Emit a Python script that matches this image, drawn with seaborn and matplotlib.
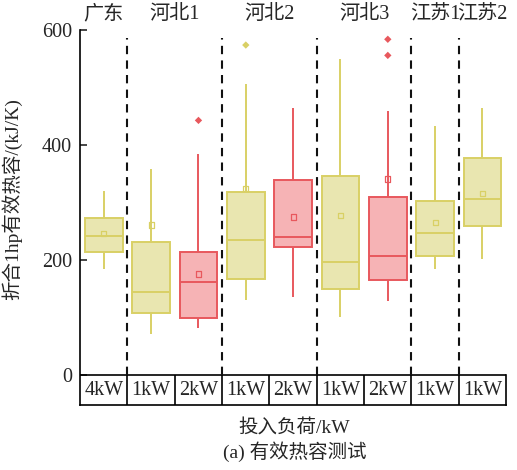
import numpy as np
import pandas as pd
import matplotlib
matplotlib.use('Agg')
import matplotlib.pyplot as plt
import seaborn as sns

# boxes, left to right
loads = ['4kW', '1kW', '2kW', '1kW', '2kW', '1kW', '2kW', '1kW', '1kW']
groups = ['广东', '河北1', '河北2', '河北3', '江苏1', '江苏2']
group_sizes = [1, 2, 2, 2, 1, 1]

whis_lo = [184, 71, 82, 130, 136, 101, 129, 184, 202]
q1 = [214, 108, 99, 168, 223, 150, 165, 207, 259]
median = [242, 144, 162, 235, 240, 197, 207, 247, 306]
q3 = [273, 231, 214, 318, 339, 346, 309, 303, 377]
whis_hi = [320, 358, 384, 506, 464, 549, 459, 434, 465]
means = [247, 261, 176, 325, 275, 277, 341, 265, 316]

flier_slot = [2, 3, 6, 6]
flier_val = [443, 574, 584, 556]

yellow_face, yellow_edge = '#e9e6b0', '#d9d065'
red_face, red_edge = '#f6b3b5', '#e8585d'

sns.set_style('ticks')
plt.rcParams['font.family'] = ['Liberation Serif', 'Noto Sans CJK SC']
plt.rcParams['font.size'] = 14

rows = []
for i in range(len(loads)):
    for v in (whis_lo[i], q1[i], median[i], q3[i], whis_hi[i]):
        rows.append({'slot': i, 'value': v, 'load': loads[i]})
df = pd.DataFrame(rows)

fig = plt.figure(figsize=(5.17, 4.70), dpi=100)
ax = fig.add_axes([0.155, 0.138, 0.824, 0.798])

order = list(range(len(loads)))
for is_red, face, edge in [(False, yellow_face, yellow_edge), (True, red_face, red_edge)]:
    sub = df[(df['load'] == '2kW') == is_red]
    sns.boxplot(data=sub, x='slot', y='value', order=order, color=face,
                linecolor=edge, saturation=1, whis=np.inf, width=0.8,
                linewidth=1.4, showcaps=False, ax=ax)

edges = [red_edge if l == '2kW' else yellow_edge for l in loads]
ax.scatter(order, means, marker='s', s=14, facecolors='none',
           edgecolors=edges, linewidths=0.9, zorder=5)
ax.scatter(flier_slot, flier_val, marker='D', s=14,
           color=[edges[s] for s in flier_slot], linewidths=0, zorder=5)

ybot = -52
ax.set_xlim(-0.5, len(loads) - 0.5)
ax.set_ylim(ybot, 600)
ax.set_yticks([0, 200, 400, 600])
ax.tick_params(axis='y', direction='in', length=5, width=1.2, labelsize=14.5, pad=6)
ax.set_xticks([])
ax.set_xlabel('')
ax.set_ylabel('折合1hp有效热容/(kJ/K)', fontsize=14)
ax.yaxis.set_label_coords(-0.135, 0.55)
ax.spines['top'].set_visible(False)
for s in ['left', 'bottom', 'right']:
    ax.spines[s].set_linewidth(1.2)
    ax.spines[s].set_color('black')
ax.spines['right'].set_bounds(ybot, 0)

# load table under the boxes
ax.axhline(0, color='black', lw=1.2)
ax.vlines(np.arange(0.5, len(loads) - 1, 1), ybot, 0, color='black', lw=1.2)
for i, l in enumerate(loads):
    ax.text(i, ybot / 2, l, ha='center', va='center', fontsize=14.5)

# group separators and names
bounds = np.cumsum(group_sizes) - 0.5
ax.vlines(bounds[:-1], 0, 586, color='#111111', lw=1.5, linestyles=(0, (4, 3)))
starts = np.concatenate([[-0.5], bounds[:-1]])
for g, a, b in zip(groups, starts, bounds):
    ax.text((a + b) / 2, 627, g, ha='center', va='center', fontsize=14.5, clip_on=False)

ax.text(0.503, -0.06, '投入负荷/kW', transform=ax.transAxes, ha='center', va='center', fontsize=14)
ax.text(0.503, -0.125, '(a) 有效热容测试', transform=ax.transAxes, ha='center', va='center', fontsize=14)

fig.savefig('out.png', dpi=100)
